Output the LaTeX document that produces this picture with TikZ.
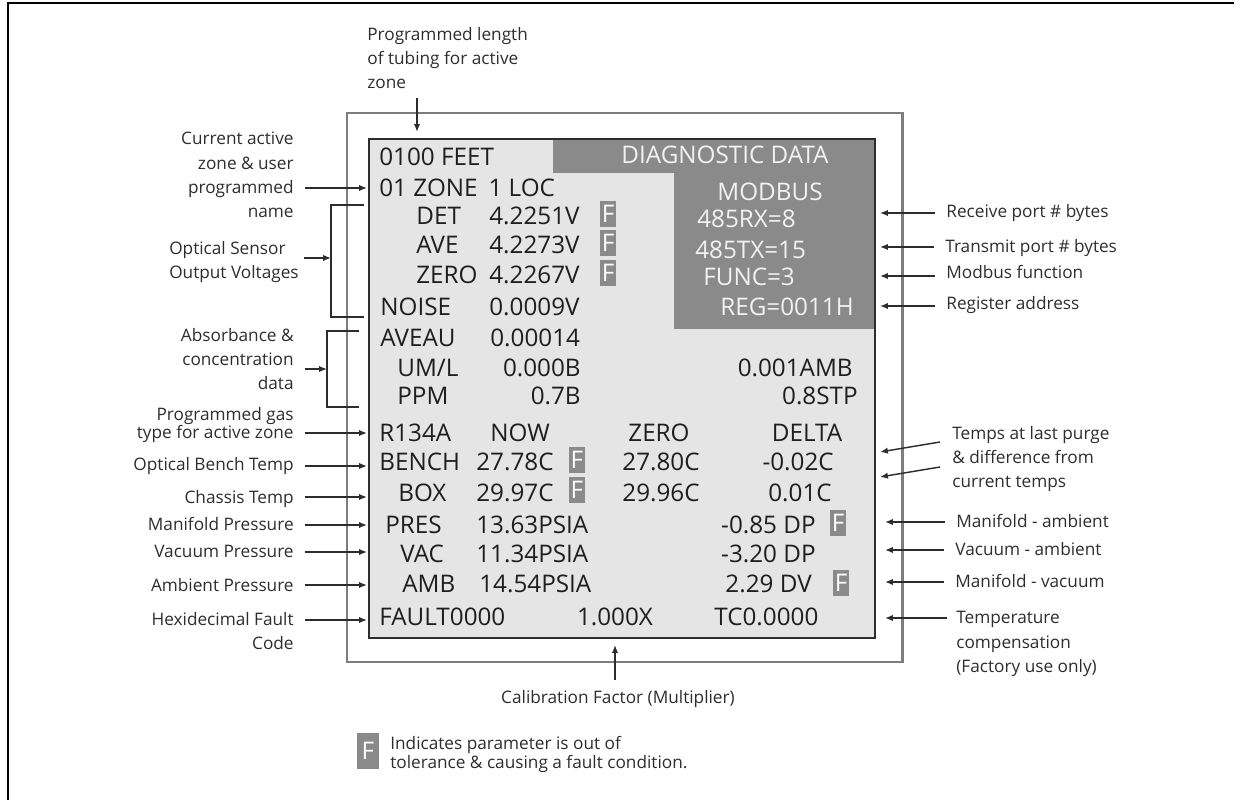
\documentclass[tikz,border=0pt]{standalone}
\usepackage{fontspec}
\setmainfont{Open Sans}
\usetikzlibrary{arrows.meta}
\definecolor{scrbg}{RGB}{229,229,229}
\definecolor{scrdark}{RGB}{138,138,138}
\definecolor{scrtext}{RGB}{30,30,30}
\definecolor{hdrtext}{RGB}{242,242,242}
\definecolor{lbltext}{RGB}{45,45,45}
\definecolor{arrgray}{RGB}{45,45,45}
\definecolor{casegray}{RGB}{125,125,125}
\tikzset{
  scr/.style={font=\fontsize{13.8}{16}\selectfont, text=scrtext, inner sep=0pt},
  hdr/.style={scr, text=hdrtext},
  lbl/.style={font=\fontsize{9.8}{13.8}\selectfont, text=lbltext, inner sep=0pt},
  fflag/.style={fill=scrdark, text=white, font=\fontsize{13.8}{16}\selectfont,
    minimum width=9.3pt, minimum height=14.8pt, inner sep=0pt},
  arr/.style={-{Latex[length=4.5pt,width=3.6pt]}, line width=0.8pt, draw=arrgray},
  larr/.style={arr, shorten <=6pt},
  brk/.style={line width=0.8pt, draw=arrgray},
}
\begin{document}
\begin{tikzpicture}[x=0.02cm,y=-0.02cm]
  \useasboundingbox (0,0) rectangle (1241,800);
  %% page frame
  \draw[line width=1.2pt] (8,800) -- (8,3) -- (1234,3);
  %% instrument case and screen
  \draw[casegray,line width=1.7pt] (347,113) rectangle (902,662);
  \draw[fill=scrbg,draw=arrgray,line width=1.1pt] (369,139) rectangle (875,638);
  \fill[scrdark] (553,139) rectangle (875,173);
  \fill[scrdark] (674,173) rectangle (875,329);
  \draw[arrgray,line width=1.1pt] (369,139) rectangle (875,638);

  %% screen text
  \node[scr,anchor=base west] (feet) at (379,166) {0100 FEET};
  \node[hdr,anchor=base] (diag) at (725,164) {DIAGNOSTIC DATA};
  \node[scr,anchor=base west] (zone) at (379,197) {01 ZONE\hspace{0.45em}1 LOC};
  \node[hdr,anchor=base] (modbus) at (770,201) {MODBUS};
  \node[scr,anchor=base west] (det) at (416,225) {DET};
  \node[scr,anchor=base west] (detv) at (489,225) {4.2251V};
  \node[fflag] (fdet) at (608,214) {F};
  \node[hdr,anchor=base west] (rx) at (697,228) {485RX=8};
  \node[scr,anchor=base west] (ave) at (416,254) {AVE};
  \node[scr,anchor=base west] (avev) at (489,254) {4.2273V};
  \node[fflag] (fave) at (608,243) {F};
  \node[hdr,anchor=base west] (tx) at (695,259) {485TX=15};
  \node[scr,anchor=base west] (zero) at (416,284) {ZERO};
  \node[scr,anchor=base west] (zerov) at (489,284) {4.2267V};
  \node[fflag] (fzero) at (608,273) {F};
  \node[hdr,anchor=base west] (func) at (703,286) {FUNC=3};
  \node[scr,anchor=base west] (noise) at (380,316) {NOISE};
  \node[scr,anchor=base west] (noisev) at (489,316) {0.0009V};
  \node[hdr,anchor=base west] (reg) at (720,316) {REG=0011H};
  \node[scr,anchor=base west] (aveau) at (380,347) {AVEAU};
  \node[scr,anchor=base west] (aveauv) at (490,347) {0.00014};
  \node[scr,anchor=base west] (uml) at (397,377) {UM/L};
  \node[scr,anchor=base east] (umlv) at (581,377) {0.000B};
  \node[scr,anchor=base east] (umlamb) at (853,377) {0.001AMB};
  \node[scr,anchor=base west] (ppm) at (397,405) {PPM};
  \node[scr,anchor=base east] (ppmv) at (581,405) {0.7B};
  \node[scr,anchor=base east] (ppmstp) at (858,405) {0.8STP};
  \node[scr,anchor=base west] (gas) at (379,441) {R134A};
  \node[scr,anchor=base] (now) at (520,441) {NOW};
  \node[scr,anchor=base] (zerohd) at (659,441) {ZERO};
  \node[scr,anchor=base] (delta) at (807,441) {DELTA};
  \node[scr,anchor=base west] (bench) at (379,471) {BENCH};
  \node[scr,anchor=base west] (benchv) at (476,471) {27.78C};
  \node[fflag] (fbench) at (577,460) {F};
  \node[scr,anchor=base] (benchz) at (661,471) {27.80C};
  \node[scr,anchor=base east] (benchd) at (834,471) {-0.02C};
  \node[scr,anchor=base west] (box) at (398,501) {BOX};
  \node[scr,anchor=base west] (boxv) at (476,501) {29.97C};
  \node[fflag] (fbox) at (577,490) {F};
  \node[scr,anchor=base] (boxz) at (661,501) {29.96C};
  \node[scr,anchor=base east] (boxd) at (832,501) {0.01C};
  \node[scr,anchor=base west] (pres) at (385,533) {PRES};
  \node[scr,anchor=base west] (presv) at (476,533) {13.63PSIA};
  \node[scr,anchor=base east] (presd) at (816,533) {-0.85 DP};
  \node[fflag] (fpres) at (838,523) {F};
  \node[scr,anchor=base west] (vac) at (400,562) {VAC};
  \node[scr,anchor=base west] (vacv) at (476,562) {11.34PSIA};
  \node[scr,anchor=base east] (vacd) at (816,562) {-3.20 DP};
  \node[scr,anchor=base west] (amb) at (402,592) {AMB};
  \node[scr,anchor=base west] (ambv) at (479,592) {14.54PSIA};
  \node[scr,anchor=base east] (ambd) at (812,592) {2.29 DV};
  \node[fflag] (famb) at (841,583) {F};
  \node[scr,anchor=base west] (fault) at (379,625) {FAULT0000};
  \node[scr,anchor=base] (calx) at (615,625) {1.000X};
  \node[scr,anchor=base west] (tcomp) at (714,625) {TC0.0000};

  %% arrow targets
  \coordinate (ttube) at (417,132);
  \coordinate (tzone) at (367,188);
  \coordinate (tsens) at (331,258);
  \coordinate (tabs) at (327,369);
  \coordinate (tgas) at (367,433);
  \coordinate (tbench) at (367,466);
  \coordinate (tbox) at (367,497);
  \coordinate (tpres) at (367,525);
  \coordinate (tvac) at (367,552);
  \coordinate (tamb) at (367,585);
  \coordinate (tfault) at (367,620);
  \coordinate (trx) at (880,213);
  \coordinate (ttx) at (880,247);
  \coordinate (tfunc) at (880,276);
  \coordinate (treg) at (880,306);
  \coordinate (tpurgeA) at (880,452);
  \coordinate (tpurgeB) at (880,477);
  \coordinate (spurgeA) at (940,442);
  \coordinate (spurgeB) at (940,467);
  \coordinate (tma) at (885,522);
  \coordinate (tva) at (885,550);
  \coordinate (tmv) at (885,582);
  \coordinate (ttc) at (885,618);
  \coordinate (tcal) at (615,645);

  %% left labels
  \node[lbl,align=left,anchor=west] (ltube) at (367,58) {Programmed length\\of tubing for active\\zone};
  \node[lbl,align=right,anchor=east] (lzone) at (294,175) {Current active\\zone \& user\\programmed\\name};
  \node[lbl,align=left,anchor=east] (lsens) at (299,262) {Optical Sensor\\Output Voltages};
  \node[lbl,align=right,anchor=east] (labs) at (294,359) {Absorbance \&\\concentration\\data};
  \node[lbl,align=right,anchor=east,font=\fontsize{9.8}{10.4}\selectfont] (lgas) at (294,425) {Programmed gas\\type for active zone};
  \node[lbl,anchor=base east] (lbench) at (294,471) {Optical Bench Temp};
  \node[lbl,anchor=base east] (lbox) at (294,503) {Chassis Temp};
  \node[lbl,anchor=base east] (lpres) at (294,530) {Manifold Pressure};
  \node[lbl,anchor=base east] (lvac) at (294,557) {Vacuum Pressure};
  \node[lbl,anchor=base east] (lamb) at (294,591) {Ambient Pressure};
  \node[lbl,align=right,anchor=east] (lfault) at (294,631) {Hexidecimal Fault\\Code};

  %% right labels
  \node[lbl,anchor=base west] (lrx) at (946,218) {Receive port \# bytes};
  \node[lbl,anchor=base west] (ltx) at (945,253) {Transmit port \# bytes};
  \node[lbl,anchor=base west] (lfunc) at (946,279) {Modbus function};
  \node[lbl,anchor=base west] (lreg) at (946,310) {Register address};
  \node[lbl,align=left,anchor=west] (lpurge) at (952,459) {Temps at last purge\\\& difference from\\current temps};
  \node[lbl,anchor=base west] (lma) at (956,527) {Manifold - ambient};
  \node[lbl,anchor=base west] (lva) at (955,555) {Vacuum - ambient};
  \node[lbl,anchor=base west] (lmv) at (955,587) {Manifold - vacuum};
  \node[lbl,align=left,anchor=west] (ltc) at (956,644) {Temperature\\compensation\\(Factory use only)};
  \node[lbl,anchor=base] (lcal) at (618,703) {Calibration Factor (Multiplier)};

  %% legend
  \node[fflag,minimum width=12.5pt,minimum height=21pt] (fkey) at (368,751) {F};
  \node[lbl,align=left,anchor=west,font=\fontsize{9.8}{10.8}\selectfont] (lkey) at (390,754) {Indicates parameter is out of\\tolerance \& causing a fault condition.};

  %% brackets
  \draw[brk] (364,205) -- (331,205) -- (331,317) -- (364,317);
  \draw[brk] (359,331) -- (327,331) -- (327,407) -- (359,407);

  %% arrows
  \draw[arr,shorten <=5pt] (ltube.south -| ttube) -- (ttube);
  \draw[larr] (lzone.east |- tzone) -- (tzone);
  \draw[arr,shorten <=3pt] (lsens.east |- tsens) -- (tsens);
  \draw[larr] (labs.east |- tabs) -- (tabs);
  \draw[larr] (lgas.east |- tgas) -- (tgas);
  \draw[larr] (lbench.east |- tbench) -- (tbench);
  \draw[larr] (lbox.east |- tbox) -- (tbox);
  \draw[larr] (lpres.east |- tpres) -- (tpres);
  \draw[larr] (lvac.east |- tvac) -- (tvac);
  \draw[larr] (lamb.east |- tamb) -- (tamb);
  \draw[larr] (lfault.east |- tfault) -- (tfault);
  \draw[larr] (lrx.west |- trx) -- (trx);
  \draw[larr] (ltx.west |- ttx) -- (ttx);
  \draw[larr] (lfunc.west |- tfunc) -- (tfunc);
  \draw[larr] (lreg.west |- treg) -- (treg);
  \draw[arr] (spurgeA) -- (tpurgeA);
  \draw[arr] (spurgeB) -- (tpurgeB);
  \draw[larr] (lma.west |- tma) -- (tma);
  \draw[larr] (lva.west |- tva) -- (tva);
  \draw[larr] (lmv.west |- tmv) -- (tmv);
  \draw[arr,shorten <=5pt] (ltc.west |- ttc) -- (ttc);
  \draw[arr,shorten <=5.5pt] (lcal.north -| tcal) -- (tcal);
\end{tikzpicture}
\end{document}
